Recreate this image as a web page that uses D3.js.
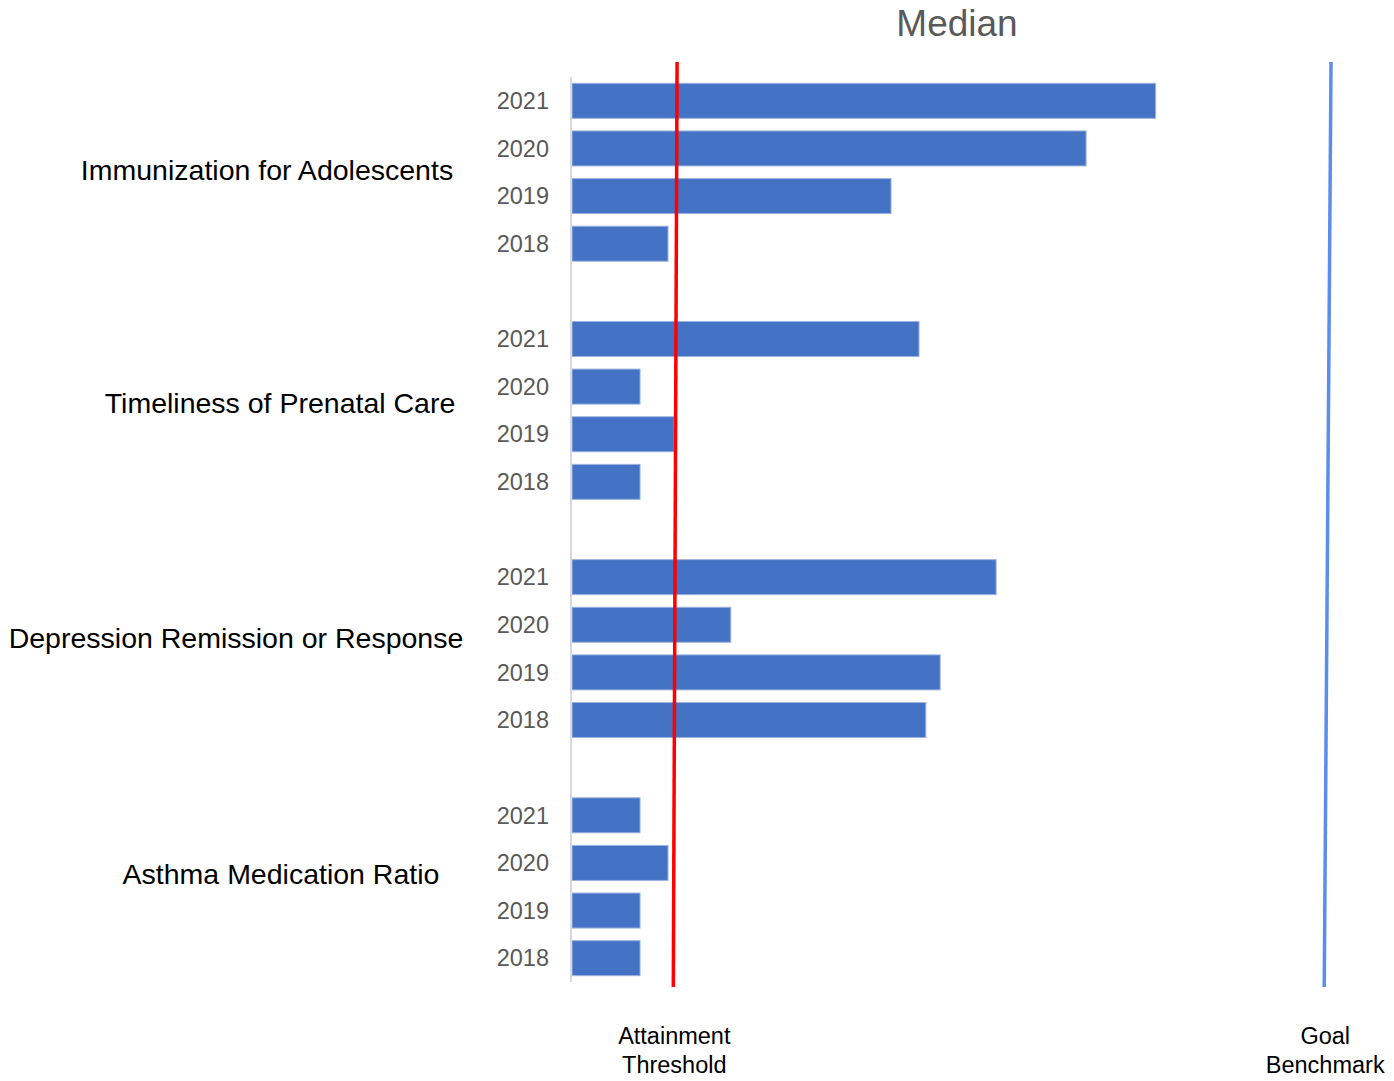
<!DOCTYPE html>
<html>
<head>
<meta charset="utf-8">
<script src="https://cdn.jsdelivr.net/npm/d3@7"></script>
<style>
  html, body { margin: 0; padding: 0; background: #fff; }
  svg { display: block; font-family: "Liberation Sans", Arial, sans-serif; }
</style>
</head>
<body>
<svg id="chart" width="1394" height="1081"></svg>
<script>
// ---- data ----
const groups = [
  "Immunization for Adolescents",
  "Timeliness of Prenatal Care",
  "Depression Remission or Response",
  "Asthma Medication Ratio"
];
const years = ["2021", "2020", "2019", "2018"];
const immunization = [77.2, 68.0, 42.2, 12.7];
const prenatal     = [45.9, 9.0, 13.5, 9.0];
const depression   = [56.1, 21.0, 48.7, 46.8];
const asthma       = [9.0, 12.7, 9.0, 9.0];
const seriesValues = [immunization, prenatal, depression, asthma];
const thresholdLine = [13.9, 13.4];   // value at top, value at bottom
const goalLine      = [100.4, 99.5];  // value at top, value at bottom
const refLabels = [["Attainment", "Threshold"], ["Goal", "Benchmark"]];
const title = "Median";

// ---- layout ----
const svg = d3.select("#chart");
const x = d3.scaleLinear().domain([0, 100]).range([572, 1328]);

const keys = [];
groups.forEach((g, gi) => {
  years.forEach(y => keys.push(g + "|" + y));
  if (gi < groups.length - 1) keys.push("gap" + gi);
});
const y = d3.scaleBand().domain(keys).range([77, 982]).paddingInner(0.265).paddingOuter(0.1325);

const rows = [];
groups.forEach((g, gi) => years.forEach((yr, yi) => rows.push({ g, yr, key: g + "|" + yr, v: seriesValues[gi][yi] })));

// bars
svg.append("g").selectAll("rect").data(rows).join("rect")
  .attr("x", x(0))
  .attr("y", d => y(d.key))
  .attr("width", d => x(d.v) - x(0))
  .attr("height", y.bandwidth())
  .attr("fill", "#4472C4")
  .attr("stroke", "#9db3e0")
  .attr("stroke-width", 1);

// axis line
svg.append("line")
  .attr("x1", 571).attr("x2", 571)
  .attr("y1", 77).attr("y2", 982)
  .attr("stroke", "#d9d9d9").attr("stroke-width", 2);

// year labels
svg.append("g").selectAll("text").data(rows).join("text")
  .attr("x", 549)
  .attr("y", d => y(d.key) + y.bandwidth() / 2)
  .attr("dy", "0.35em")
  .attr("text-anchor", "end")
  .attr("font-size", 23.5)
  .attr("fill", "#595959")
  .text(d => d.yr);

// group labels
const groupLabelPos = [[267, 170], [280, 403], [236, 638], [281, 874]];
svg.append("g").selectAll("text").data(groups).join("text")
  .attr("x", (d, i) => groupLabelPos[i][0])
  .attr("y", (d, i) => groupLabelPos[i][1])
  .attr("dy", "0.35em")
  .attr("text-anchor", "middle")
  .attr("font-size", 28.5)
  .attr("fill", "#000")
  .text(d => d);

// reference lines
const lineTop = 62, lineBottom = 987;
svg.append("line")
  .attr("x1", x(thresholdLine[0])).attr("y1", lineTop)
  .attr("x2", x(thresholdLine[1])).attr("y2", lineBottom)
  .attr("stroke", "#ff0000").attr("stroke-width", 3.5);
svg.append("line")
  .attr("x1", x(goalLine[0])).attr("y1", lineTop)
  .attr("x2", x(goalLine[1])).attr("y2", lineBottom)
  .attr("stroke", "#5b8def").attr("stroke-width", 3.5);

// reference labels
[thresholdLine, goalLine].forEach((ln, i) => {
  const t = svg.append("text")
    .attr("text-anchor", "middle")
    .attr("font-size", 23.5)
    .attr("fill", "#000");
  refLabels[i].forEach((s, j) => {
    t.append("tspan").attr("x", x(ln[1]) + 1).attr("y", 1044 + j * 29).text(s);
  });
});

// title
svg.append("text")
  .attr("x", 957).attr("y", 36)
  .attr("text-anchor", "middle")
  .attr("font-size", 37)
  .attr("fill", "#595959")
  .text(title);
</script>
</body>
</html>
